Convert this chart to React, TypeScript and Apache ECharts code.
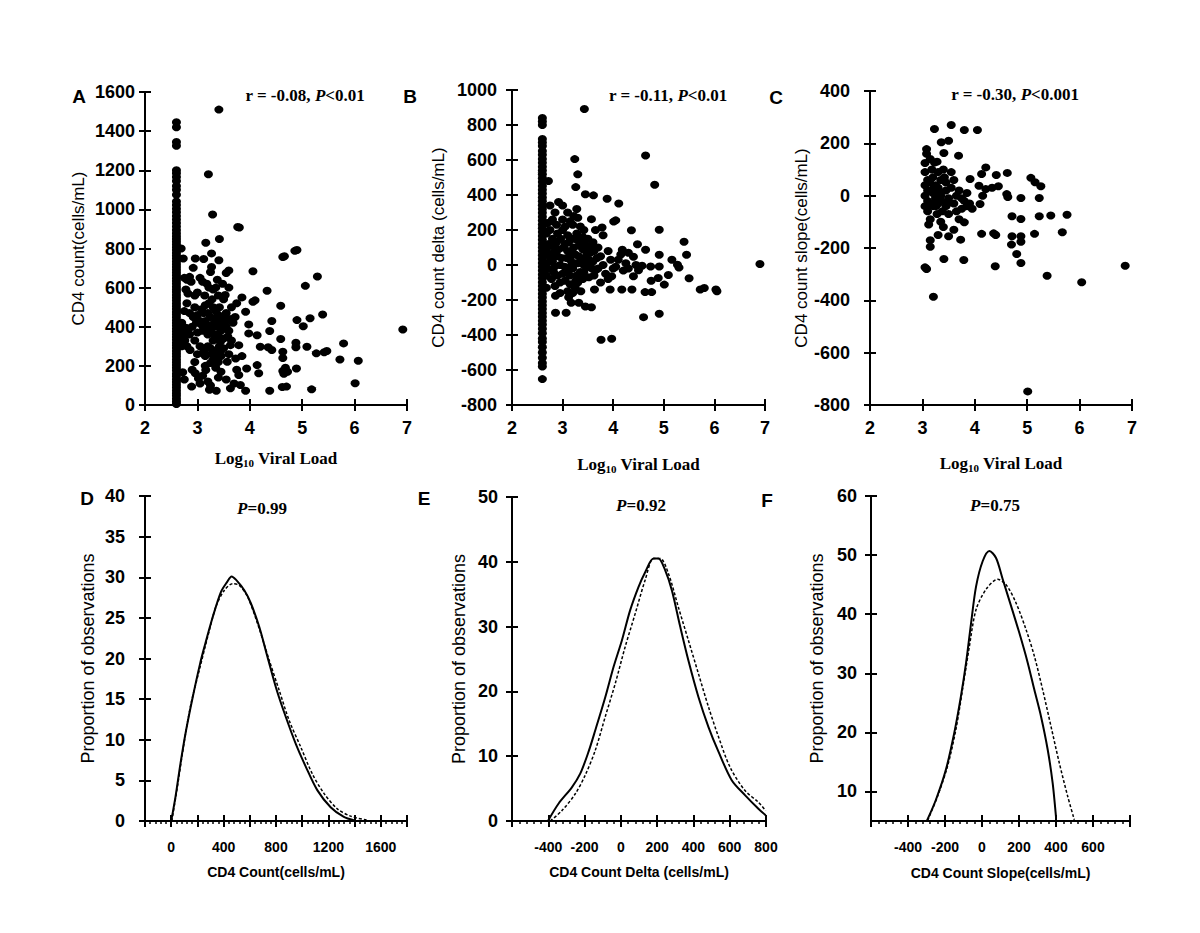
import { useEffect, useRef } from "react";
import * as echarts from "echarts";

// ---------- DATA ----------
const colX = 2.6;
const columnA: number[] = [5, 18, 32, 47, 60, 74, 90, 103, 118, 132, 147, 160, 176, 190, 204, 219, 233, 248, 262, 276, 291, 305, 318, 333, 347, 362, 376, 390, 405, 419, 433, 448, 462, 476, 491, 505, 519, 534, 548, 562, 577, 591, 605, 620, 634, 648, 663, 677, 691, 706, 720, 734, 749, 763, 777, 792, 806, 820, 835, 849, 863, 878, 895, 912, 930, 948, 966, 985, 1003, 1022, 1040, 1075, 1100, 1120, 1145, 1165, 1185, 1200, 1325, 1345, 1420, 1445];
const scatterA: [number, number][] = [
  [3.41, 1510], [3.21, 1180], [3.29, 974], [3.8, 907], [3.77, 910], [3.42, 849], [3.16, 829],
  [2.69, 800], [2.73, 749], [2.96, 749], [3.12, 746], [3.27, 775], [3.41, 740], [2.92, 701], [3.27, 706], [3.25, 680], [3.6, 688], [3.55, 675],
  [4.63, 757], [4.66, 760], [4.86, 788], [4.9, 792], [4.06, 684], [5.29, 657], [4.33, 584], [5.06, 609],
  [2.75, 650], [2.8, 640], [2.85, 655], [2.88, 630], [3.05, 650], [3.1, 630], [3.18, 620], [3.22, 600], [3.3, 590], [3.35, 600], [3.38, 640],
  [2.78, 590], [2.82, 570], [2.95, 560], [3.0, 575], [3.14, 560],
  [3.53, 562], [3.85, 550], [4.06, 528], [4.1, 535], [4.59, 507], [5.39, 463], [5.15, 443], [4.9, 434], [4.42, 429], [5.02, 403], [4.38, 378],
  [3.98, 412], [3.92, 477], [3.98, 366], [4.14, 357], [4.59, 337], [6.92, 386], [5.79, 315], [4.88, 318], [4.88, 295], [5.09, 298], [5.27, 264],
  [5.47, 276], [5.42, 270], [5.72, 233], [6.07, 226], [4.63, 272], [4.63, 240], [4.42, 281], [4.35, 295], [4.2, 298], [4.14, 204], [4.17, 162],
  [4.63, 174], [4.72, 170], [4.68, 190], [4.65, 160], [4.89, 187], [6.01, 111], [5.18, 80], [4.7, 94], [4.62, 92], [4.38, 73], [3.92, 73],
  [3.82, 102], [3.63, 85], [3.36, 73], [3.23, 78], [2.89, 94], [3.02, 136], [3.16, 179], [2.96, 162], [2.72, 167], [2.75, 130], [2.86, 281],
  [3.12, 272], [3.25, 290], [3.44, 323], [3.44, 272], [3.63, 306], [3.79, 306], [3.57, 221], [3.73, 238], [3.94, 187], [3.79, 153], [3.6, 260],
  [3.1, 150], [3.2, 120], [3.3, 230], [3.35, 190], [3.05, 110],
  [2.75, 480], [2.85, 470], [2.95, 500], [3.0, 460], [3.08, 490], [3.15, 510], [3.2, 470], [3.25, 450], [3.3, 500], [3.35, 440], [3.4, 460],
  [3.45, 420], [3.5, 400], [3.55, 470], [3.62, 440], [3.68, 420], [3.72, 450], [3.45, 380], [3.4, 350], [3.35, 400], [3.5, 340], [3.6, 380],
  [3.3, 330], [3.2, 360], [3.1, 380], [3.0, 370], [2.9, 400], [2.85, 360], [2.95, 330], [3.08, 410], [3.15, 430], [2.8, 520], [2.7, 420],
  [2.68, 380], [2.72, 350], [2.76, 330], [2.8, 300], [2.7, 300], [3.0, 260], [3.05, 300], [3.15, 250], [3.3, 270], [3.45, 250], [3.5, 290],
  [3.25, 215], [3.15, 200], [2.95, 220], [2.9, 180], [3.4, 140], [3.45, 170], [3.55, 130], [3.7, 110], [3.25, 100], [3.75, 180], [3.85, 250],
  [3.65, 500], [3.75, 520], [3.5, 540], [3.4, 560], [3.6, 600], [3.48, 620],
  [2.66, 360], [2.7, 340], [2.66, 320], [2.7, 395], [2.74, 370], [2.78, 395], [2.82, 380], [3.22, 520], [3.28, 540], [3.35, 480], [3.42, 500],
  [3.48, 450], [3.52, 420], [3.38, 420], [3.28, 410], [3.18, 400], [3.25, 380], [3.33, 360], [3.42, 300], [3.36, 280], [3.27, 260], [3.2, 300],
  [3.55, 400], [3.58, 350], [3.65, 330], [3.12, 470], [3.05, 430], [2.98, 420], [2.92, 450], [3.35, 250], [3.4, 220]
];

const columnB: number[] = [-652, -580, -560, -530, -500, -470, -440, -420, -390, -365, -340, -318, -296, -274, -252, -230, -208, -186, -164, -142, -120, -98, -76, -54, -32, -10, 12, 34, 56, 78, 100, 122, 144, 166, 188, 210, 232, 254, 276, 298, 320, 342, 364, 386, 408, 430, 452, 474, 496, 518, 540, 562, 584, 606, 630, 652, 680, 700, 720, 800, 820, 840];
const scatterB: [number, number][] = [
  [3.43, 891], [4.64, 626], [4.82, 459], [3.24, 605], [3.3, 518], [3.26, 445], [3.45, 404], [3.61, 398], [3.88, 379], [4.11, 351], [2.92, 360],
  [3.0, 340], [2.72, 480], [2.75, 340], [2.85, 300], [2.8, 260], [3.57, 262], [3.78, 214], [4.01, 248], [4.05, 255], [4.36, 199], [4.91, 201],
  [5.4, 133], [5.45, 59], [4.48, 119], [4.64, 87], [4.91, 59], [5.16, 30], [5.27, 2], [5.3, -15], [4.18, 87], [4.4, 47], [4.15, 60], [4.57, -4],
  [4.74, -9], [4.91, -9], [5.09, -57], [5.01, -112], [5.5, -76], [5.72, -140], [5.8, -131], [6.03, -140], [6.05, -150], [6.9, 6], [4.89, -74],
  [4.75, -90], [4.63, -155], [4.76, -155], [4.6, -298], [4.91, -279], [4.37, -140], [4.17, -140], [3.94, -140], [3.63, -140], [4.4, -64],
  [4.2, -32], [3.97, -64], [3.76, -427], [3.97, -421], [2.86, -273], [3.07, -273], [3.32, -216], [3.45, -237], [3.57, -241], [3.17, -216],
  [2.86, -176], [3.12, -184],
  [2.75, 200], [2.8, 150], [2.85, 100], [2.9, 50], [2.95, 0], [3.0, -50], [3.05, 120], [3.1, 80], [3.15, 30], [3.2, -20], [3.25, 60], [3.3, 10],
  [3.35, -40], [3.4, 90], [3.45, 40], [3.5, -10], [3.55, 70], [3.6, 20], [3.65, -30], [3.7, 100], [3.75, 50], [3.8, 0], [3.85, -50], [3.9, 80],
  [3.95, 30], [4.0, -20], [2.78, -80], [2.85, -120], [2.95, -100], [3.05, -90], [3.15, -110], [3.25, -130], [3.3, -100], [3.4, -80], [2.8, 20],
  [2.9, 180], [3.0, 200], [3.1, 170], [3.2, 150], [3.3, 140], [3.4, 160], [3.5, 150], [3.6, 130], [2.78, 250], [3.0, 260], [3.2, 230], [3.3, 270],
  [3.35, 220], [3.1, 300], [3.28, 320], [3.22, 280], [2.82, -40], [2.72, 60], [2.7, -20], [2.72, 120], [3.12, -30], [3.18, 0], [3.28, -60],
  [3.42, 0], [3.52, -70], [3.62, -60], [3.7, -20], [3.75, -100], [3.55, 100], [3.65, 200], [3.8, 170], [3.9, -80], [4.05, -10], [4.1, 30],
  [4.25, 10], [4.3, -20], [4.45, 0], [4.3, 70], [4.5, -30],
  [2.68, 180], [2.68, 90], [2.68, 10], [2.68, -60], [2.68, -130], [2.7, 240], [2.76, 40], [2.78, 110], [2.82, 70], [2.84, -10], [2.88, 130],
  [2.9, -60], [2.92, 90], [2.96, 150], [2.98, 40], [3.02, 100], [3.04, -10], [3.08, 40], [3.12, 130], [3.14, -60], [3.18, 60], [3.22, 100],
  [3.24, 10], [3.26, -90], [3.28, 180], [3.32, 50], [3.34, 110], [3.38, 30], [3.42, -40], [3.44, 120], [3.48, 70], [3.52, 30], [3.58, -20],
  [3.62, 80], [3.68, 40], [2.88, 230], [3.05, 220], [3.15, 250], [3.42, 200], [3.1, -150], [3.2, -160], [3.36, -150], [2.95, -160]
];

const scatterC: [number, number][] = [
  [3.23, 255], [3.55, 270], [3.8, 251], [4.05, 251], [3.5, 210], [3.36, 204], [3.41, 163], [3.69, 153], [3.08, 178], [3.08, 160], [3.05, 125],
  [3.23, 127], [4.21, 108], [4.62, 87], [4.41, 79], [3.91, 64], [5.07, 68], [5.15, 51], [5.26, 36], [4.13, 83], [4.08, 38], [4.21, 25], [4.33, 30],
  [4.45, 36], [4.61, 6], [4.63, -5], [4.88, -9], [5.23, -9], [4.15, 0], [4.1, -32], [4.71, -79], [4.88, -89], [5.23, -79], [5.45, -76], [5.76, -73],
  [5.14, -146], [5.67, -140], [4.71, -155], [4.88, -155], [4.88, -176], [4.7, -187], [4.8, -223], [4.88, -257], [4.39, -270], [5.38, -306],
  [6.04, -331], [6.87, -268], [5.01, -748], [3.21, -386], [3.05, -274], [3.08, -280], [3.41, -242], [3.79, -246], [4.13, -146], [4.36, -144],
  [4.4, -150], [3.15, -195], [3.15, -170], [3.3, -150], [3.5, -155], [3.73, -168], [3.6, -130], [3.8, -102],
  [3.05, 90], [3.1, 60], [3.05, 40], [3.1, 20], [3.05, 0], [3.1, -20], [3.05, -40], [3.1, -60], [3.15, -90], [3.12, -110], [3.18, 100], [3.2, 70],
  [3.25, 40], [3.2, 10], [3.25, -10], [3.2, -40], [3.28, -70], [3.3, 90], [3.35, 60], [3.3, 30], [3.35, 0], [3.3, -30], [3.38, -60], [3.35, -100],
  [3.4, -120], [3.45, 50], [3.45, 20], [3.5, -10], [3.45, -40], [3.5, -70], [3.55, 90], [3.6, 60], [3.55, 30], [3.65, 0], [3.6, -30], [3.65, -60],
  [3.7, 20], [3.75, -10], [3.8, -20], [3.75, -50], [3.85, -40], [3.9, -30], [3.95, -50], [3.85, 10], [3.7, -90], [3.4, 100], [3.28, 130], [3.15, 140],
  [3.14, 50], [3.16, -30], [3.22, 30], [3.26, -40], [3.32, 10], [3.36, -20], [3.42, 70], [3.48, -30]
];

const dSolid: [number, number][] = [[0, 0], [33, 3.0], [71, 7.1], [114, 11.2], [165, 15.3], [221, 19.4], [253, 21.4], [317, 25.1], [380, 28.2], [426, 29.4], [461, 30.1], [494, 29.7], [558, 28.4], [608, 26.8], [672, 23.9], [735, 20.2], [806, 16.1], [875, 12.8], [951, 9.5], [1027, 6.7], [1115, 3.8], [1217, 1.7], [1318, 0.5], [1394, 0.1]];
const dDashed: [number, number][] = [[5, 0], [51, 4.6], [101, 9.9], [152, 14.5], [215, 18.6], [279, 22.7], [342, 26.4], [406, 28.4], [469, 29.2], [520, 29.0], [583, 27.6], [659, 24.3], [748, 19.8], [824, 16.1], [900, 12.4], [989, 9.1], [1077, 5.8], [1166, 3.4], [1268, 1.5], [1369, 0.6], [1496, 0.1]];
const eSolid: [number, number][] = [[-402, 0], [-343, 2.7], [-270, 5.2], [-224, 7.3], [-178, 10.7], [-141, 14.0], [-86, 19.1], [-40, 23.8], [6, 27.9], [51, 32.5], [97, 36.1], [134, 38.4], [180, 40.5], [207, 40.5], [244, 38.7], [281, 35.6], [327, 30.0], [372, 24.8], [428, 19.1], [483, 14.5], [538, 10.7], [611, 6.3], [684, 4.0], [758, 1.9], [798, 0.9]];
const eDashed: [number, number][] = [[-389, 0], [-325, 1.6], [-251, 4.2], [-196, 7.1], [-141, 10.9], [-86, 16.1], [-31, 21.2], [24, 26.9], [79, 32.0], [134, 37.2], [180, 40.5], [217, 40.5], [262, 38.2], [317, 33.0], [372, 27.9], [428, 22.7], [483, 17.6], [538, 13.0], [602, 8.3], [684, 4.7], [758, 2.9], [798, 1.6]];
const fSolid: [number, number][] = [[-297, 5.1], [-249, 8.6], [-195, 13.7], [-150, 19.9], [-114, 26.1], [-86, 31.8], [-59, 38.5], [-32, 44.7], [4, 49.0], [40, 50.7], [76, 49.5], [112, 45.9], [157, 41.4], [202, 36.8], [247, 31.8], [283, 27.2], [319, 22.7], [355, 17.1], [382, 11.4], [400, 5.7]];
const fDashed: [number, number][] = [[-294, 5.1], [-240, 9.2], [-186, 14.3], [-141, 20.5], [-105, 27.3], [-68, 34.6], [-32, 40.8], [22, 44.2], [85, 45.9], [130, 45.0], [184, 41.9], [238, 37.4], [283, 32.9], [328, 27.2], [373, 21.0], [418, 14.8], [463, 9.2], [499, 5.2]];

const fYTicks = [10, 20, 30, 40, 50, 60];
const dXLabels = [0, 400, 800, 1200, 1600];
const eXLabels = [-400, -200, 0, 200, 400, 600, 800];
const fXLabels = [-400, -200, 0, 200, 400, 600];

const statTexts = ["r = -0.08, ", "r = -0.11, ", "r = -0.30, "];
const statP = ["<0.01", "<0.01", "<0.001"];
const bottomP = ["=0.99", "=0.92", "=0.75"];
const panelLetters = ["A", "B", "C", "D", "E", "F"];

// ---------- STYLE ----------
const BLACK = "#000";
const SANS = "'Liberation Sans', Arial, sans-serif";
const SERIF = "'Liberation Serif', 'Times New Roman', serif";

const grids = [
  { left: 145, top: 92, width: 262, height: 313 },
  { left: 512, top: 90, width: 253, height: 315 },
  { left: 870, top: 91, width: 262, height: 314 },
  { left: 145, top: 496, width: 262, height: 325 },
  { left: 512, top: 497, width: 254, height: 324 },
  { left: 871, top: 496, width: 259, height: 325 }
];

function axisPair(dim: "x" | "y", gridIndex: number, cfg: any): any[] {
  const base: any = {
    type: "value",
    gridIndex,
    min: cfg.min,
    max: cfg.max,
    position: dim === "x" ? "bottom" : "left",
    splitLine: { show: false }
  };
  if (cfg.interval !== undefined) base.interval = cfg.interval;
  const tickStyle = { color: BLACK, width: 2 };
  const main: any = {
    ...base,
    axisLine: { show: true, onZero: false, lineStyle: { color: BLACK, width: 2 } },
    axisTick: { show: true, length: 6, lineStyle: tickStyle, ...(cfg.tickValues ? { customValues: cfg.tickValues } : {}) },
    axisLabel: {
      show: true,
      color: BLACK,
      fontFamily: SANS,
      fontWeight: "bold",
      fontSize: cfg.labelSize,
      margin: cfg.labelMargin,
      formatter: cfg.formatter ? cfg.formatter : (v: number) => String(v),
      ...(cfg.tickValues ? { customValues: cfg.tickValues } : {}),
      showMinLabel: true,
      showMaxLabel: true
    },
    minorTick: cfg.minor
      ? { show: true, splitNumber: 5, length: 3, lineStyle: { color: BLACK, width: 1.5 } }
      : { show: false },
    name: cfg.name,
    nameLocation: "middle",
    nameGap: cfg.nameGap,
    nameRotate: dim === "y" ? 90 : 0,
    nameTextStyle: cfg.nameStyle
  };
  const inner: any = {
    ...base,
    axisLine: { show: false, onZero: false },
    axisTick: { show: true, inside: true, length: 6, lineStyle: tickStyle, ...(cfg.tickValues ? { customValues: cfg.tickValues } : {}) },
    axisLabel: { show: false },
    minorTick: { show: false }
  };
  return [main, inner];
}

const logName = {
  name: "{a|Log}{s|10}{a| Viral Load}",
  nameStyle: {
    rich: {
      a: { fontFamily: SERIF, fontWeight: "bold", fontSize: 17, color: BLACK },
      s: { fontFamily: SERIF, fontWeight: "bold", fontSize: 11, color: BLACK, padding: [9, 0, 0, 0] }
    }
  }
};
const yNameTop = { fontFamily: SANS, fontSize: 17, color: BLACK };
const yNameBottom = { fontFamily: SANS, fontSize: 18, color: BLACK };
const xNameBottom = { fontFamily: SANS, fontSize: 14, fontWeight: "bold", color: BLACK };

function labelFilter(allowed: number[]) {
  return (v: number) => (allowed.indexOf(v) >= 0 ? String(v) : "");
}

export default function App() {
  const ref = useRef<HTMLDivElement>(null);
  useEffect(() => {
    if (!ref.current) return;
    const chart = echarts.init(ref.current, undefined, { renderer: "svg" });

    const xAxes: any[] = [
      ...axisPair("x", 0, { min: 2, max: 7, interval: 1, labelSize: 18, labelMargin: 14, nameGap: 43, ...logName }),
      ...axisPair("x", 1, { min: 2, max: 7, interval: 1, labelSize: 18, labelMargin: 14, nameGap: 49, ...logName }),
      ...axisPair("x", 2, { min: 2, max: 7, interval: 1, labelSize: 18, labelMargin: 14, nameGap: 48, ...logName }),
      ...axisPair("x", 3, { min: -200, max: 1800, interval: 200, labelSize: 14, labelMargin: 19, minor: true, formatter: labelFilter(dXLabels), name: "CD4 Count(cells/mL)", nameGap: 44, nameStyle: xNameBottom }),
      ...axisPair("x", 4, { min: -600, max: 800, interval: 200, labelSize: 14, labelMargin: 19, minor: true, formatter: labelFilter(eXLabels), name: "CD4 Count Delta (cells/mL)", nameGap: 44, nameStyle: xNameBottom }),
      ...axisPair("x", 5, { min: -600, max: 800, interval: 200, labelSize: 14, labelMargin: 19, minor: true, formatter: labelFilter(fXLabels), name: "CD4 Count Slope(cells/mL)", nameGap: 45, nameStyle: xNameBottom })
    ];
    const yAxes: any[] = [
      ...axisPair("y", 0, { min: 0, max: 1600, interval: 200, labelSize: 18, labelMargin: 10, name: "CD4 count(cells/mL)", nameGap: 58, nameStyle: yNameTop }),
      ...axisPair("y", 1, { min: -800, max: 1000, interval: 200, labelSize: 18, labelMargin: 15, name: "CD4 count delta (cells/mL)", nameGap: 65, nameStyle: yNameTop }),
      ...axisPair("y", 2, { min: -800, max: 400, interval: 200, labelSize: 18, labelMargin: 20, name: "CD4 count slope(cells/mL)", nameGap: 59, nameStyle: yNameTop }),
      ...axisPair("y", 3, { min: 0, max: 40, interval: 5, labelSize: 18, labelMargin: 20, name: "Proportion of observations", nameGap: 48, nameStyle: yNameBottom }),
      ...axisPair("y", 4, { min: 0, max: 50, interval: 10, labelSize: 18, labelMargin: 14, name: "Proportion of observations", nameGap: 44, nameStyle: yNameBottom }),
      ...axisPair("y", 5, { min: 5, max: 60, labelSize: 18, labelMargin: 14, tickValues: fYTicks, name: "Proportion of observations", nameGap: 45, nameStyle: yNameBottom })
    ];

    const scatterStyle = {
      type: "scatter",
      symbol: "circle",
      symbolSize: [9, 8],
      itemStyle: { color: BLACK, opacity: 1 },
      silent: true
    };
    const solidLine = { type: "line", showSymbol: false, symbol: "none", smooth: 0.3, lineStyle: { color: BLACK, width: 2 }, silent: true };
    const dashLine = { type: "line", showSymbol: false, symbol: "none", smooth: 0.3, lineStyle: { color: BLACK, width: 1.5, type: [3, 2] }, silent: true };

    const series: any[] = [
      { ...scatterStyle, xAxisIndex: 0, yAxisIndex: 0, data: [...columnA.map((y) => [colX, y]), ...scatterA] },
      { ...scatterStyle, xAxisIndex: 2, yAxisIndex: 2, data: [...columnB.map((y) => [colX, y]), ...scatterB] },
      { ...scatterStyle, xAxisIndex: 4, yAxisIndex: 4, data: scatterC },
      { ...dashLine, xAxisIndex: 6, yAxisIndex: 6, data: dDashed },
      { ...solidLine, xAxisIndex: 6, yAxisIndex: 6, data: dSolid },
      { ...dashLine, xAxisIndex: 8, yAxisIndex: 8, data: eDashed },
      { ...solidLine, xAxisIndex: 8, yAxisIndex: 8, data: eSolid },
      { ...dashLine, xAxisIndex: 10, yAxisIndex: 10, data: fDashed },
      { ...solidLine, xAxisIndex: 10, yAxisIndex: 10, data: fSolid }
    ];

    const letterPos = [[79, 96], [410, 96], [776, 97], [87, 498], [424, 498], [767, 500]];
    const statPos = [[305, 95], [668, 95], [1015, 94]];
    const pPos = [[262, 508], [641, 505], [995, 505]];
    const richStat = {
      n: { fontFamily: SERIF, fontWeight: "bold", fontSize: 17, fill: BLACK },
      i: { fontFamily: SERIF, fontWeight: "bold", fontStyle: "italic", fontSize: 17, fill: BLACK }
    };
    const graphic: any[] = [
      ...panelLetters.map((t, k) => ({
        type: "text",
        x: letterPos[k][0],
        y: letterPos[k][1],
        style: { text: t, fontFamily: SANS, fontWeight: "bold", fontSize: 19, fill: BLACK, align: "center", verticalAlign: "middle" }
      })),
      ...statTexts.map((t, k) => ({
        type: "text",
        x: statPos[k][0],
        y: statPos[k][1],
        style: { text: `{n|${t}}{i|P}{n|${statP[k]}}`, rich: richStat, align: "center", verticalAlign: "middle" }
      })),
      ...bottomP.map((t, k) => ({
        type: "text",
        x: pPos[k][0],
        y: pPos[k][1],
        style: { text: `{i|P}{n|${t}}`, rich: richStat, align: "center", verticalAlign: "middle" }
      }))
    ];

    chart.setOption({
      animation: false,
      backgroundColor: "#fff",
      grid: grids.map((g) => ({ ...g, containLabel: false })),
      xAxis: xAxes,
      yAxis: yAxes,
      series,
      graphic
    });
    return () => chart.dispose();
  }, []);
  return <div ref={ref} style={{ position: "fixed", left: 0, top: 0, width: 1200, height: 933, background: "#fff" }} />;
}
